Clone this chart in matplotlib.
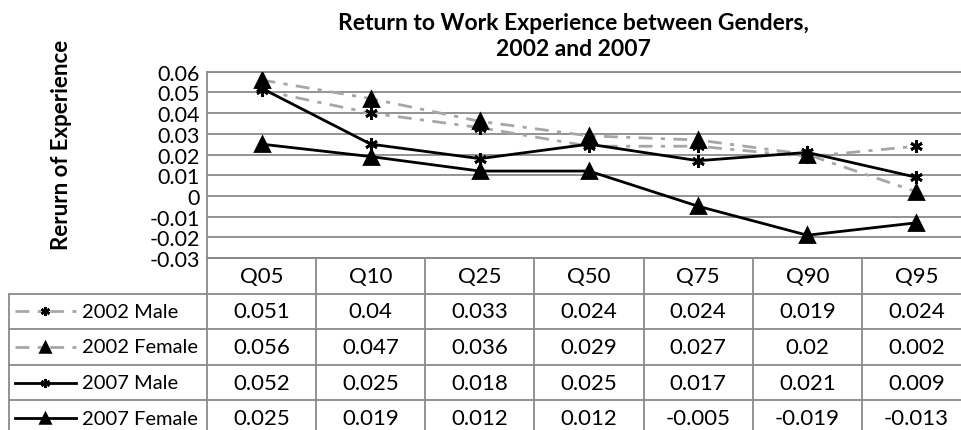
import matplotlib.pyplot as plt
from matplotlib.lines import Line2D

plt.rcParams['font.family'] = ['Lato', 'DejaVu Sans']

quantis = ["Q05", "Q10", "Q25", "Q50", "Q75", "Q90", "Q95"]
male_2002 = [0.051, 0.04, 0.033, 0.024, 0.024, 0.019, 0.024]
female_2002 = [0.056, 0.047, 0.036, 0.029, 0.027, 0.02, 0.002]
male_2007 = [0.052, 0.025, 0.018, 0.025, 0.017, 0.021, 0.009]
female_2007 = [0.025, 0.019, 0.012, 0.012, -0.005, -0.019, -0.013]
nomes = ["2002 Male", "2002 Female", "2007 Male", "2007 Female"]
yticks = [0.06, 0.05, 0.04, 0.03, 0.02, 0.01, 0, -0.01, -0.02, -0.03]

W, H = 961, 431
GRID = "#8a8a8a"
CINZA = "#a6a6a6"
ASTER = (6, 2, 0)
FS = 16

series = [male_2002, female_2002, male_2007, female_2007]
estilos = [
    dict(color=CINZA, ls=(0, (5, 3, 1.5, 3)), marker=ASTER),
    dict(color=CINZA, ls=(0, (5, 3, 1.5, 3)), marker="^"),
    dict(color="black", ls="-", marker=ASTER),
    dict(color="black", ls="-", marker="^"),
]


def fx(px):
    return px / W


def fy(py):
    return (H - py) / H


fig = plt.figure(figsize=(W / 100, H / 100), dpi=100)
fig.patch.set_facecolor("white")

# area do grafico (a ultima coluna sai um pouco da imagem, como no original)
x0, x1 = 207, 971
ytop, ybot = 72.7, 259
ax = fig.add_axes([fx(x0), fy(ybot), fx(x1 - x0), (ybot - ytop) / H])
ax.set_xlim(0, 7)
ax.set_ylim(-0.03, 0.06)
ax.set_yticks(yticks)
ax.set_yticklabels([f"{t:g}" for t in yticks], fontsize=15.5)
ax.tick_params(axis="y", length=0, pad=5)
ax.set_xticks([])
for t in yticks:
    ax.axhline(t, color=GRID, lw=1.3, zorder=0)
for s in ax.spines.values():
    s.set_color(GRID)
    s.set_linewidth(1.3)

xs = [i + 0.5 for i in range(len(quantis))]
for vals, st in zip(series, estilos):
    ax.plot(xs, vals, color=st["color"], ls=st["ls"], lw=2, zorder=3)
    ax.plot(xs, vals, ls="none", marker=st["marker"], color="black",
            markersize=10 if st["marker"] == "^" else 9, mew=2, zorder=4)

fig.text(fx(573), fy(24), "Return to Work Experience between Genders,",
         ha="center", va="center", fontsize=16.5, fontweight="bold")
fig.text(fx(573), fy(50), "2002 and 2007",
         ha="center", va="center", fontsize=16.5, fontweight="bold")
fig.text(fx(62), fy(145), "Rerurn of Experience", rotation=90,
         ha="center", va="center", fontsize=16, fontweight="bold")

# tabela de dados
col_w = (x1 - x0) / 7
tleft = 9
lab_w = (x0 - tleft) / col_w
row_h = 35.6
nrows = 5
tb = fig.add_axes([fx(tleft), fy(ybot + nrows * row_h), fx(x1 - tleft), nrows * row_h / H])
tb.set_xlim(-lab_w, 7)
tb.set_ylim(nrows, 0)
tb.axis("off")

for j in range(8):
    tb.plot([j, j], [0, nrows], color=GRID, lw=1.3, clip_on=False)
tb.plot([-lab_w, -lab_w], [1, nrows], color=GRID, lw=1.3, clip_on=False)
tb.plot([0, 7], [0, 0], color=GRID, lw=1.3, clip_on=False)
for r in range(1, nrows + 1):
    tb.plot([-lab_w, 7], [r, r], color=GRID, lw=1.3, clip_on=False)

for j, q in enumerate(quantis):
    tb.text(j + 0.5, 0.5, q, ha="center", va="center", fontsize=FS)

def px2col(px):
    return -lab_w + (px - tleft) / col_w

for r, (nome, vals, st) in enumerate(zip(nomes, series, estilos)):
    yr = r + 1.5
    tb.add_line(Line2D([px2col(15), px2col(76)], [yr, yr], color=st["color"],
                       ls=st["ls"], lw=2))
    tb.plot([px2col(45)], [yr], ls="none", marker=st["marker"], color="black",
            markersize=7 if st["marker"] == "^" else 6.5, mew=1.8)
    tb.text(px2col(82), yr, nome, ha="left", va="center", fontsize=14.5)
    for j, v in enumerate(vals):
        tb.text(j + 0.5, yr, f"{v:g}", ha="center", va="center", fontsize=FS)

fig.savefig("out.png", dpi=100)
